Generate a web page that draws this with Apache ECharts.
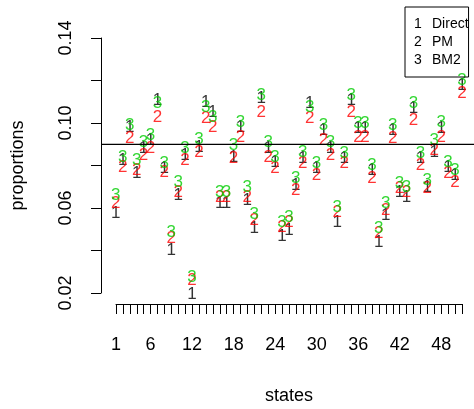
<!DOCTYPE html>
<html>
<head>
<meta charset="utf-8">
<script src="https://cdn.jsdelivr.net/npm/echarts@6/dist/echarts.min.js"></script>
<style>
  html, body { margin: 0; padding: 0; background: #ffffff; }
  #chart { width: 474px; height: 409px; }
</style>
</head>
<body>
<div id="chart"></div>
<script>
// state index (x)
const states = [1, 2, 3, 4, 5, 6, 7, 8, 9, 10, 11, 12, 13, 14, 15, 16, 17, 18, 19, 20,
  21, 22, 23, 24, 25, 26, 27, 28, 29, 30, 31, 32, 33, 34, 35, 36, 37, 38, 39, 40,
  41, 42, 43, 44, 45, 46, 47, 48, 49, 50, 51];

// proportions per state
const direct = [0.0576, 0.0826, 0.0981, 0.0765, 0.0882, 0.0920, 0.1108, 0.0788, 0.0402, 0.0661,
  0.0849, 0.0191, 0.0887, 0.1099, 0.1052, 0.0624, 0.0624, 0.0840, 0.0981, 0.0638,
  0.0506, 0.1118, 0.0882, 0.0816, 0.0464, 0.0496, 0.0708, 0.0835, 0.1094, 0.0788,
  0.0967, 0.0882, 0.0534, 0.0835, 0.1108, 0.0976, 0.0976, 0.0779, 0.0440, 0.0567,
  0.0967, 0.0675, 0.0652, 0.1071, 0.0835, 0.0699, 0.0864, 0.0976, 0.0793, 0.0755, 0.1179];
const pm = [0.0624, 0.0793, 0.0929, 0.0779, 0.0849, 0.0882, 0.1028, 0.0769, 0.0459, 0.0675,
  0.0826, 0.0261, 0.0864, 0.1024, 0.0981, 0.0652, 0.0652, 0.0835, 0.0934, 0.0652,
  0.0544, 0.1052, 0.0840, 0.0788, 0.0511, 0.0534, 0.0685, 0.0812, 0.1024, 0.0755,
  0.0920, 0.0849, 0.0581, 0.0812, 0.1052, 0.0934, 0.0934, 0.0741, 0.0482, 0.0591,
  0.0929, 0.0694, 0.0675, 0.1014, 0.0802, 0.0694, 0.0873, 0.0934, 0.0765, 0.0722, 0.1141];
const bm2 = [0.0661, 0.0840, 0.0991, 0.0826, 0.0911, 0.0944, 0.1094, 0.0812, 0.0487, 0.0722,
  0.0882, 0.0271, 0.0925, 0.1075, 0.1028, 0.0675, 0.0675, 0.0896, 0.1005, 0.0699,
  0.0572, 0.1132, 0.0911, 0.0840, 0.0534, 0.0558, 0.0741, 0.0864, 0.1075, 0.0812,
  0.0991, 0.0911, 0.0605, 0.0859, 0.1132, 0.1000, 0.1000, 0.0802, 0.0506, 0.0624,
  0.0991, 0.0718, 0.0699, 0.1094, 0.0859, 0.0732, 0.0920, 0.1005, 0.0816, 0.0779, 0.1202];

const seriesNames = ['Direct', 'PM', 'BM2'];
const refLevel = 0.09;

// tick labels that R kept
const xTickLabels = ['1', '6', '12', '18', '24', '30', '36', '42', '48'];
const yTickLabels = ['0.02', '0.06', '0.10', '0.14'];

const FONT = 'Liberation Sans, Arial, Helvetica, sans-serif';
const colors = ['#000000', '#ff0000', '#00cd00'];

// plot region (R usr: xlim 1..51 and ylim .02..14 padded 4%)
const X_MIN = -1, X_MAX = 52.75;
const Y_MIN = 0.0152, Y_MAX = 0.1448;

const chart = echarts.init(document.getElementById('chart'));

const textSeries = (name, vals, idx) => ({
  name: name,
  type: 'scatter',
  xAxisIndex: 0,
  yAxisIndex: 0,
  clip: false,
  symbolSize: 1,
  itemStyle: { color: 'rgba(0,0,0,0)' },
  label: {
    show: true,
    position: 'inside',
    formatter: String(idx + 1),
    color: colors[idx],
    fontFamily: FONT,
    fontSize: 17
  },
  emphasis: { disabled: true },
  data: states.map((s, i) => [s, vals[i]])
});

const option = {
  backgroundColor: '#ffffff',
  animation: false,
  grid: [
    { left: 102, right: 0, top: 28, bottom: 106, outerBoundsMode: 'none' },   // plot region
    { left: 116, right: 12, top: 38, bottom: 116, outerBoundsMode: 'none' }   // axes
  ],
  legend: {
    data: seriesNames,
    orient: 'vertical',
    left: 405,
    top: 7,
    padding: [10, 0, 10, 4],
    itemGap: 4,
    itemWidth: 0,
    itemHeight: 14,
    icon: 'none',
    selectedMode: false,
    borderColor: '#000',
    borderWidth: 1,
    formatter: (name) => '{n|' + (seriesNames.indexOf(name) + 1) + '}{t|' + name + '}',
    textStyle: {
      fontFamily: FONT,
      fontSize: 14,
      color: '#000',
      rich: {
        n: { width: 18, fontFamily: FONT, fontSize: 14, color: '#000' },
        t: { width: 70, fontFamily: FONT, fontSize: 14, color: '#000' }
      }
    }
  },
  xAxis: [
    {
      gridIndex: 0, type: 'value', min: X_MIN, max: X_MAX, show: false
    },
    {
      gridIndex: 1,
      type: 'value',
      min: 1,
      max: 51,
      interval: 1,
      offset: 11,
      name: 'states',
      nameLocation: 'middle',
      nameGap: 83,
      nameTextStyle: { fontFamily: FONT, fontSize: 18, color: '#000' },
      axisLine: { lineStyle: { color: '#000', width: 1 } },
      axisTick: { length: 10, lineStyle: { color: '#000' } },
      axisLabel: {
        interval: 0,
        margin: 32,
        fontFamily: FONT,
        fontSize: 18,
        color: '#000',
        formatter: (v) => (xTickLabels.indexOf(String(Math.round(v))) >= 0 ? String(Math.round(v)) : '')
      },
      splitLine: { show: false }
    }
  ],
  yAxis: [
    {
      gridIndex: 0, type: 'value', min: Y_MIN, max: Y_MAX, show: false
    },
    {
      gridIndex: 1,
      type: 'value',
      min: 0.02,
      max: 0.14,
      interval: 0.02,
      offset: 15,
      name: 'proportions',
      nameLocation: 'middle',
      nameGap: 74,
      nameTextStyle: { fontFamily: FONT, fontSize: 18, color: '#000' },
      axisLine: { show: true, lineStyle: { color: '#000', width: 1 } },
      axisTick: { show: true, length: 10, lineStyle: { color: '#000' } },
      axisLabel: {
        rotate: 90,
        margin: 26,
        fontFamily: FONT,
        fontSize: 18,
        color: '#000',
        formatter: (v) => (yTickLabels.indexOf(v.toFixed(2)) >= 0 ? v.toFixed(2) : '')
      },
      splitLine: { show: false }
    }
  ],
  series: [
    {
      name: 'ref',
      type: 'line',
      xAxisIndex: 0,
      yAxisIndex: 0,
      symbol: 'none',
      silent: true,
      lineStyle: { color: '#000', width: 1.3 },
      data: [[X_MIN, refLevel], [X_MAX, refLevel]]
    },
    textSeries('Direct', direct, 0),
    textSeries('PM', pm, 1),
    textSeries('BM2', bm2, 2)
  ]
};

chart.setOption(option);
</script>
</body>
</html>
